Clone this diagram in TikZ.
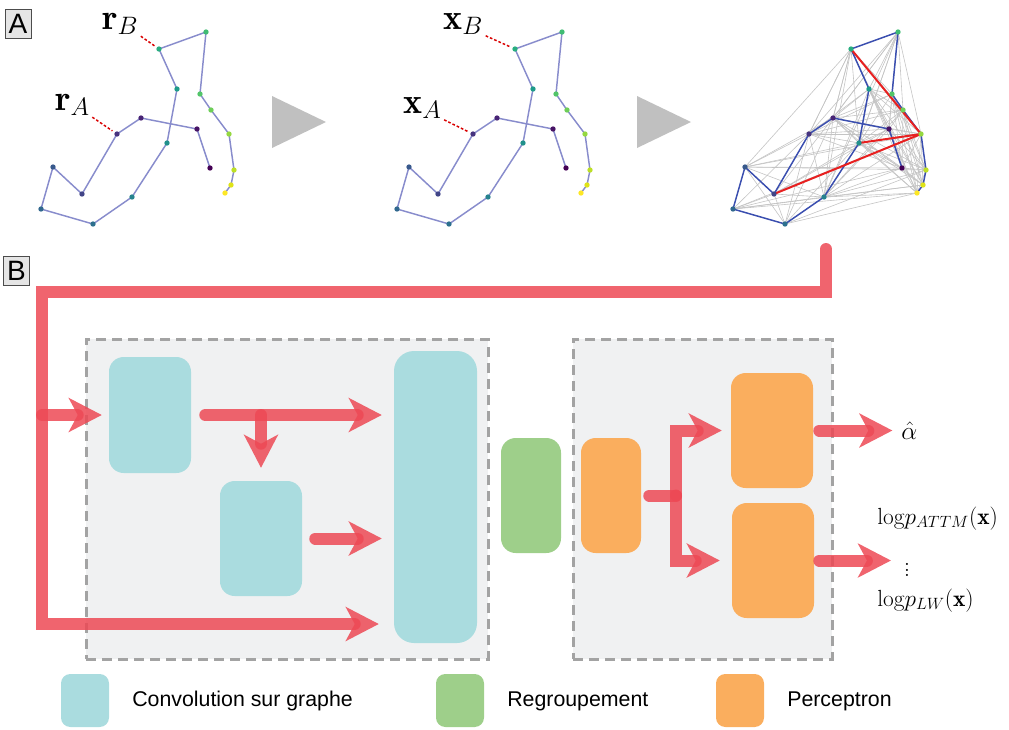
\RequirePackage{fix-cm}
\documentclass[tikz,border=0pt]{standalone}
\usepackage{fontspec}
\newfontfamily\lsans{Liberation Sans}
\usetikzlibrary{arrows.meta}

\definecolor{convc}{RGB}{170,220,223}
\definecolor{poolc}{RGB}{158,207,138}
\definecolor{mlpc}{RGB}{250,174,94}
\definecolor{arrred}{RGB}{237,73,85}
\definecolor{framebg}{RGB}{240,241,242}
\definecolor{framedash}{RGB}{163,163,163}
\definecolor{chainA}{RGB}{136,140,204}
\definecolor{chainB}{RGB}{58,78,176}
\definecolor{edgegray}{RGB}{196,196,196}
\definecolor{contred}{RGB}{232,32,32}
\definecolor{trigray}{RGB}{192,192,192}
\definecolor{vc0}{RGB}{68,1,84}
\definecolor{vc1}{RGB}{71,19,101}
\definecolor{vc2}{RGB}{72,36,117}
\definecolor{vc3}{RGB}{70,51,127}
\definecolor{vc4}{RGB}{65,68,135}
\definecolor{vc5}{RGB}{56,89,140}
\definecolor{vc6}{RGB}{49,104,142}
\definecolor{vc7}{RGB}{45,112,142}
\definecolor{vc8}{RGB}{38,130,142}
\definecolor{vc9}{RGB}{33,145,140}
\definecolor{vc10}{RGB}{30,155,138}
\definecolor{vc11}{RGB}{40,174,128}
\definecolor{vc12}{RGB}{63,188,115}
\definecolor{vc13}{RGB}{82,197,105}
\definecolor{vc14}{RGB}{110,206,88}
\definecolor{vc15}{RGB}{149,216,64}
\definecolor{vc16}{RGB}{189,223,38}
\definecolor{vc17}{RGB}{223,227,24}
\definecolor{vc18}{RGB}{253,231,37}

\def\GX{{210,197,141,117,82,53,41,93,132,167,177,159,206,200,211,229,234,231,225}}
\def\GY{{168,129,118,134,194,167,209,224,197,143,89,49,32,94,110,134,170,185,193}}

\begin{document}
\begin{tikzpicture}[x=0.75pt,y=-0.75pt,
  frame/.style={fill=framebg, draw=framedash, line width=2.25pt, dash pattern=on 7.5pt off 4.5pt, inner sep=0pt},
  blk/.style={inner sep=0pt, draw=none, rounded corners=11pt},
  legsq/.style={inner sep=0pt, draw=none, rounded corners=7pt, minimum width=36pt, minimum height=39.75pt},
  legtxt/.style={font=\lsans\fontsize{16}{19}\selectfont, anchor=base west, inner sep=0pt},
  arr/.style={draw=arrred, line width=9pt, opacity=0.85, line cap=round,
    -{Stealth[length=25pt, width=26pt, inset=7pt, line width=0pt]}},
  arrline/.style={draw=arrred, line width=9pt, opacity=0.85, line cap=round},
  dot/.style={circle, inner sep=0pt, minimum size=4pt, draw=none},
  lab/.style={font=\fontsize{27}{30}\selectfont, inner sep=0pt},
  rl/.style={font=\fontsize{17.5}{20}\selectfont, inner sep=0pt},
  reddash/.style={draw=red!85!black, line width=1.1pt, dash pattern=on 2pt off 1.5pt},
  letter/.style={draw=black!70, fill=black!10, line width=0.75pt, minimum width=19.5pt, minimum height=21.75pt, inner sep=0pt, font=\lsans\fontsize{21}{21}\selectfont},
  chainl/.style={draw=chainA, line width=1.1pt, line join=round},
  chainr/.style={draw=chainB, line width=1.1pt, line join=round},
  grayedge/.style={draw=edgegray, line width=0.45pt},
  contact/.style={draw=contred, line width=1.5pt}
]
\useasboundingbox (0,0) rectangle (1009,729);

% ---------------- Panel A ----------------
\node[letter] (lA) at (18,23.5) {A};

\foreach \k in {0,...,18}{
  \pgfmathsetmacro\xx{\GX[\k]}
  \pgfmathsetmacro\yy{\GY[\k]}
  \coordinate (L\k) at (\xx,\yy);
  \coordinate (M\k) at (\xx+356,\yy);
  \coordinate (R\k) at (\xx+692,\yy);
}

% gray neighbourhood edges (right graph)
\foreach \i in {0,...,17}{
  \pgfmathtruncatemacro\js{\i+1}
  \foreach \j in {\js,...,18}{
    \pgfmathsetmacro\xa{\GX[\i]}
    \pgfmathsetmacro\xb{\GX[\j]}
    \pgfmathsetmacro\ya{\GY[\i]}
    \pgfmathsetmacro\yb{\GY[\j]}
    \pgfmathsetmacro\dd{veclen(\xa-\xb,\ya-\yb)}
    \ifdim\dd pt<118pt \draw[grayedge] (R\i) -- (R\j);\fi
  }
}
\foreach \a/\b in {5/0,5/16,5/11,5/15,6/18,6/17,6/0,7/18,4/1,12/3,12/2,12/9,11/3,11/2,12/8,6/15,7/16,11/8}{
  \draw[grayedge] (R\a) -- (R\b);
}

% backbones
\draw[chainl] (L0) \foreach \k in {1,...,18}{ -- (L\k) };
\draw[chainl] (M0) \foreach \k in {1,...,18}{ -- (M\k) };
\draw[chainr] (R0) \foreach \k in {1,...,18}{ -- (R\k) };

% contacts
\draw[contact] (R11) -- (R15);
\draw[contact] (R15) -- (R9);
\draw[contact] (R15) -- (R4);

% residues
\foreach \k in {0,...,18}{
  \node[dot, fill=vc\k] (Ld\k) at (L\k) {};
  \node[dot, fill=vc\k] (Md\k) at (M\k) {};
  \node[dot, fill=vc\k] (Rd\k) at (R\k) {};
}

% labels
\node[lab, anchor=base west] (rB) at (102,29) {$\mathbf{r}_B$};
\node[lab, anchor=base west] (rA) at (55,110) {$\mathbf{r}_A$};
\node[lab, anchor=base west] (xB) at (443,29) {$\mathbf{x}_B$};
\node[lab, anchor=base west] (xA) at (403,113) {$\mathbf{x}_A$};
\draw[reddash, shorten <=2pt, shorten >=2pt] (rB.south east) -- (Ld11);
\draw[reddash, shorten <=2pt, shorten >=2pt] (rA.south east) -- (Ld3);
\draw[reddash, shorten <=2pt, shorten >=2pt] (xB.south east) -- (Md11);
\draw[reddash, shorten <=2pt, shorten >=2pt] (xA.south east) -- (Md3);

% gray triangles
\fill[trigray] (272,96) -- (326,122) -- (272,148) -- cycle;
\fill[trigray] (637,96) -- (691,122) -- (637,148) -- cycle;

% ---------------- Panel B ----------------
\node[letter] (lB) at (16.5,271) {B};

\node[frame, minimum width=301.5pt, minimum height=240pt] (f1) at (287,499) {};
\node[frame, minimum width=194.25pt, minimum height=240pt] (f2) at (702.5,499) {};

\node[blk, fill=convc, minimum width=61.5pt, minimum height=87pt] (conv1) at (150,415) {};
\node[blk, fill=convc, minimum width=61.5pt, minimum height=86.25pt] (conv2) at (261,538.5) {};
\node[blk, fill=convc, rounded corners=15pt, minimum width=62.25pt, minimum height=219pt] (conv3) at (435.5,497) {};
\node[blk, fill=poolc, minimum width=45pt, minimum height=86.25pt] (pool) at (531,495.5) {};
\node[blk, fill=mlpc, minimum width=45pt, minimum height=86.25pt] (mlp1) at (611,495.5) {};
\node[blk, fill=mlpc, minimum width=61.5pt, minimum height=86.25pt] (mlp2) at (772,430.5) {};
\node[blk, fill=mlpc, minimum width=61.5pt, minimum height=86.25pt] (mlp3) at (773,560.5) {};

% output labels
\node[rl, anchor=base west, font=\fontsize{19}{21}\selectfont] (alpha) at (901,439) {$\hat{\alpha}$};
\node[rl, anchor=base west] (pattm) at (877,524) {$\mathrm{log}p_{ATTM}(\mathbf{x})$};
\node[rl, font=\fontsize{19}{21}\selectfont] (vd) at (907,566) {$\vdots$};
\node[rl, anchor=base west] (plw) at (877,606) {$\mathrm{log}p_{LW}(\mathbf{x})$};

% feedback path
\coordinate (fbtop) at (826,249);
\coordinate (fbleft) at (42,292);
\coordinate (fbbot) at (42,624);
\draw[arr, line cap=round, line join=miter, shorten >=11.25pt] (fbtop) |- (fbleft) -- (fbbot) -- (fbbot -| conv3.west);
\draw[arr, shorten >=5.25pt] (fbleft |- conv1.west) -- (conv1.west);

% convolution arrows
\draw[arr, shorten <=10.5pt, shorten >=9pt] (conv1.east) -- (conv1.east -| conv3.west);
\draw[arr, shorten >=9.75pt] (conv1.east -| conv2.north) -- (conv2.north);
\draw[arr, shorten <=9.75pt, shorten >=9pt] (conv2.east) -- (conv2.east -| conv3.west);

% perceptron branching
\coordinate (br) at (676,495.5);
\draw[arrline, shorten <=6pt] (mlp1.east) -- (br);
\draw[arr, line join=miter, shorten >=6.75pt] (br) |- (mlp2.west);
\draw[arr, line join=miter, shorten >=9pt] (br) |- (mlp3.west);

% outputs
\draw[arr, shorten <=4.5pt, shorten >=6.5pt] (mlp2.east) -- (mlp2.east -| alpha.west);
\draw[arr, shorten <=3.75pt, shorten >=9.5pt] (mlp3.east) -- (mlp3.east -| vd.west);

% legend
\node[legsq, fill=convc] (lg1) at (85,700.5) {};
\node[legsq, fill=poolc] (lg2) at (460,700.5) {};
\node[legsq, fill=mlpc] (lg3) at (740,700.5) {};
\node[legtxt] (lt1) at (132,706) {Convolution sur graphe};
\node[legtxt] (lt2) at (507,706) {Regroupement};
\node[legtxt] (lt3) at (787,706) {Perceptron};
\end{tikzpicture}
\end{document}
